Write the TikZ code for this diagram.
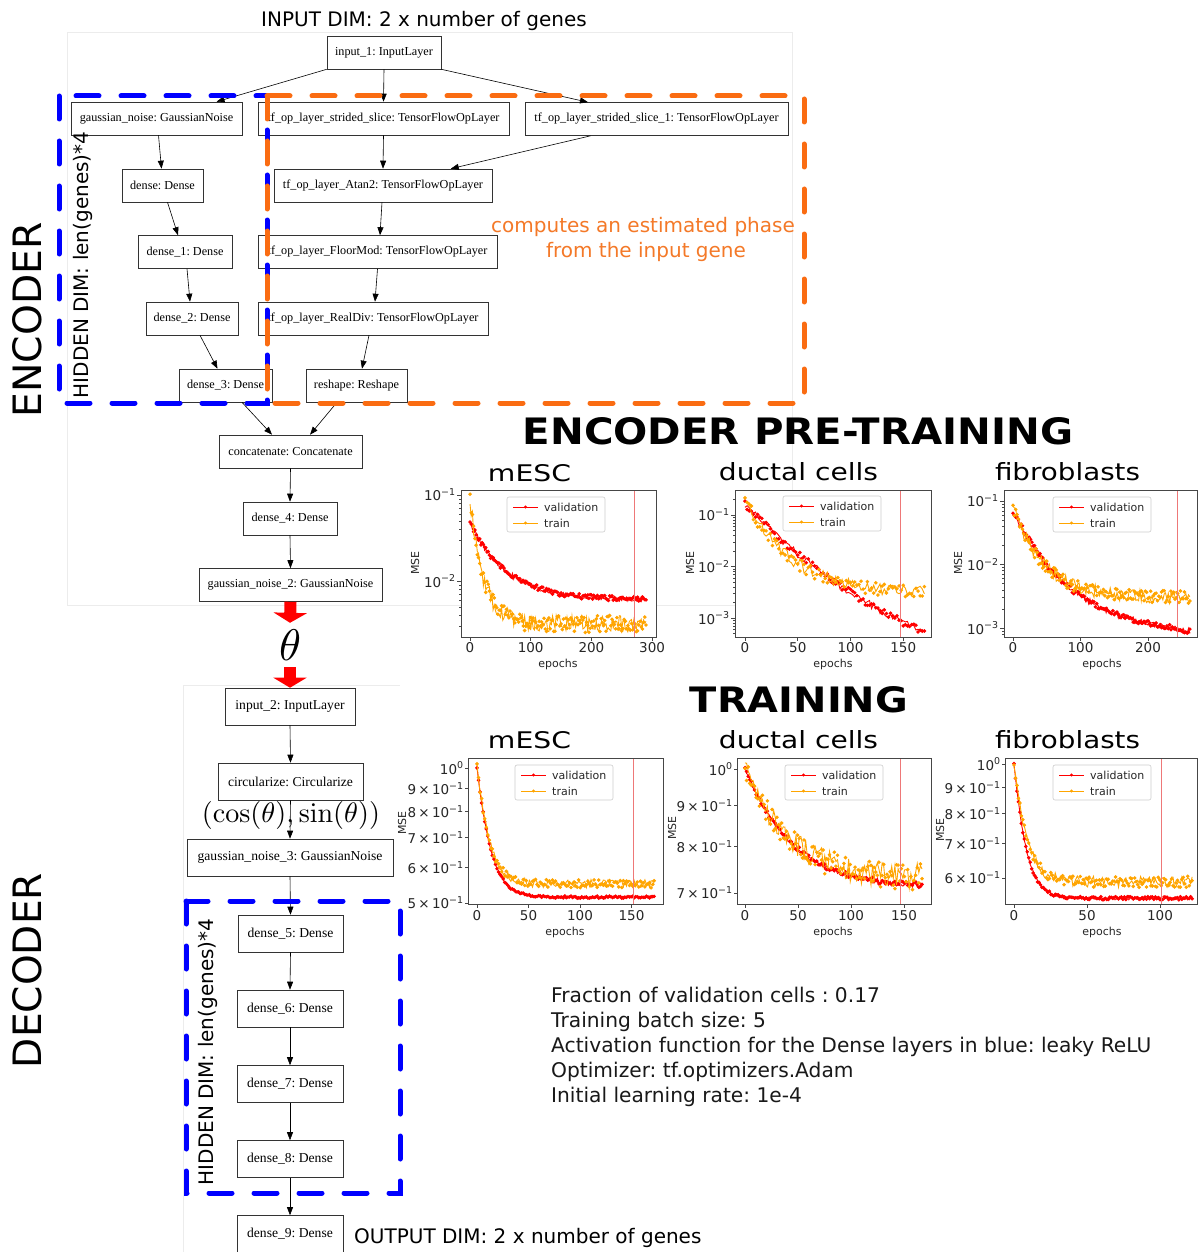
\documentclass[tikz,border=0pt]{standalone}
\usepackage[no-math]{fontspec}
\setmainfont{Liberation Serif}
\newfontfamily\dv{DejaVu Sans}
\usepackage{graphicx}
\usetikzlibrary{arrows.meta,calc}
\definecolor{dashorange}{RGB}{250,108,18}
\definecolor{txtorange}{RGB}{244,121,40}
\definecolor{mplred}{RGB}{255,0,0}
\definecolor{mplorange}{RGB}{255,165,0}
\definecolor{vlinecol}{RGB}{238,120,120}
\definecolor{faint}{RGB}{236,236,236}
\definecolor{axgray}{RGB}{70,70,70}
\newcommand{\tp}[1]{10\textsuperscript{#1}}
\newcommand{\mt}[1]{#1\,×\,10\textsuperscript{−1}}
\frenchspacing
\tikzset{
 lay/.style={draw=black!80, line width=0.6pt, inner sep=0pt, minimum height=33pt, font=\fontsize{12.2}{14}\selectfont},
 dlay/.style={lay, minimum height=37pt, font=\fontsize{13.6}{15}\selectfont},
 edge/.style={-{Triangle[length=8pt,width=6pt]}, line width=0.6pt, black},
 redarr/.style={-{Triangle[length=10pt,width=33pt]}, line width=12pt, red},
 bluebox/.style={draw=blue, line width=5pt, line cap=round, dash pattern=on 23pt off 22pt},
 orangebox/.style={draw=dashorange, line width=5pt, line cap=round, dash pattern=on 23pt off 22pt},
 axframe/.style={draw=axgray, line width=0.8pt},
 tk/.style={axgray, line width=0.7pt},
 tkm/.style={axgray, line width=0.5pt},
 tl/.style={font=\dv\fontsize{13.5}{15}\selectfont, text=black!85, inner sep=1pt},
 sl/.style={font=\dv\fontsize{11}{12}\selectfont, text=black!85, inner sep=1pt},
 cval/.style={mplred, line width=0.9pt, mark=*, mark size=1.3pt, mark options={fill=mplred, draw=mplred}},
 ctrain/.style={mplorange, line width=0.9pt, mark=*, mark size=1.3pt, mark options={fill=mplorange, draw=mplorange}},
 vmark/.style={vlinecol, line width=0.8pt},
 bigtxt/.style={inner sep=0pt, font=\dv},
 note/.style={font=\dv\fontsize{20.2}{22}\selectfont, anchor=base west, inner sep=0pt, text=black!90},
}
\newcommand{\plegend}[2]{%
 \draw[draw=black!20, fill=white, rounded corners=2pt, line width=0.6pt] (#1,#2) rectangle ++(98,35);
 \draw[mplred, line width=1pt] ({#1+6},{#2+10}) -- ++(25,0);
 \fill[mplred] ({#1+18.5},{#2+10}) circle (1.7pt);
 \node[sl, anchor=west] at ({#1+36},{#2+10}) {validation};
 \draw[mplorange, line width=1pt] ({#1+6},{#2+26}) -- ++(25,0);
 \fill[mplorange] ({#1+18.5},{#2+26}) circle (1.7pt);
 \node[sl, anchor=west] at ({#1+36},{#2+26}) {train};
}
\begin{document}
\begin{tikzpicture}[x=1pt,y=-1pt]
\useasboundingbox (0,0) rectangle (1199,1252);
\fill[white] (0,0) rectangle (1199,1252);
\pgfmathsetseed{42}
% faint image frames
\draw[faint, line width=0.8pt] (67,32) rectangle (792,605);
\draw[faint, line width=0.8pt] (183,685) -- (400,685);
\draw[faint, line width=0.8pt] (183,685) -- (183,1252);

% ---------- encoder graph ----------
\node[lay, minimum width=114pt] (in1) at (384,52.5) {input\_1: InputLayer};
\node[lay, minimum width=171pt] (gn) at (156.5,118.5) {gaussian\_noise: GaussianNoise};
\node[lay, minimum width=251pt] (ss) at (383.5,118.5) {tf\_op\_layer\_strided\_slice: TensorFlowOpLayer};
\node[lay, minimum width=263pt] (ss1) at (656.5,119) {tf\_op\_layer\_strided\_slice\_1: TensorFlowOpLayer};
\node[lay, minimum width=81pt] (d0) at (162.5,185.5) {dense: Dense};
\node[lay, minimum width=218pt] (atan) at (383,185.5) {tf\_op\_layer\_Atan2: TensorFlowOpLayer};
\node[lay, minimum width=94pt] (d1) at (185,252) {dense\_1: Dense};
\node[lay, minimum width=239pt] (fmod) at (377.5,252) {tf\_op\_layer\_FloorMod: TensorFlowOpLayer};
\node[lay, minimum width=92pt] (d2) at (192,318.5) {dense\_2: Dense};
\node[lay, minimum width=230pt] (rdiv) at (373,318.5) {tf\_op\_layer\_RealDiv: TensorFlowOpLayer};
\node[lay, minimum width=93pt] (d3) at (225.5,385.5) {dense\_3: Dense};
\node[lay, minimum width=101pt] (resh) at (356.5,385.5) {reshape: Reshape};
\node[lay, minimum width=143pt] (conc) at (290.5,451.5) {concatenate: Concatenate};
\node[lay, minimum width=94pt] (d4) at (290,518.5) {dense\_4: Dense};
\node[lay, minimum width=183pt] (gn2) at (290.5,585) {gaussian\_noise\_2: GaussianNoise};

\draw[edge] (in1.south west) -- ($(gn.north west)!0.85!(gn.north east)$);
\draw[edge] (in1.south) -- (ss.north);
\draw[edge] (in1.south east) -- ($(ss1.north west)!0.24!(ss1.north east)$);
\draw[edge] ($(gn.south)+(2,0)$) -- ($(d0.north)+(-1,0)$);
\draw[edge] ($(d0.south)+(5,0)$) -- ($(d1.north)+(-7,0)$);
\draw[edge] ($(d1.south)+(2,0)$) -- ($(d2.north)+(-2,0)$);
\draw[edge] ($(d2.south)+(8,0)$) -- ($(d3.north)+(-8,0)$);
\draw[edge] (ss.south) -- (atan.north);
\draw[edge] ($(ss1.south west)!0.25!(ss1.south east)$) -- ($(atan.north west)!0.81!(atan.north east)$);
\draw[edge] ($(atan.south)+(-1,0)$) -- ($(fmod.north)+(2.5,0)$);
\draw[edge] (fmod.south) -- ($(rdiv.north)+(2,0)$);
\draw[edge] ($(rdiv.south)+(-4,0)$) -- ($(resh.north)+(5.5,0)$);
\draw[edge] ($(d3.south)+(16.5,0)$) -- ($(conc.north)+(-18.5,0)$);
\draw[edge] ($(resh.south)+(-19.5,0)$) -- ($(conc.north)+(19.5,0)$);
\draw[edge] (conc.south) -- (d4.north);
\draw[edge] (d4.south) -- (gn2.north);

% dashed groups
\draw[bluebox] (59,96) rectangle (267,403);
\draw[orangebox] (267,96) rectangle (804,403);
\node[font=\dv\fontsize{20}{20}\selectfont, text=txtorange, anchor=base] (ph1) at (643,232) {computes an estimated phase};
\node[font=\dv\fontsize{20}{20}\selectfont, text=txtorange, anchor=base] (ph2) at (646,257) {from the input gene};
\node[font=\dv\fontsize{20}{20}\selectfont, rotate=90, inner sep=0pt] (hd1) at (82.5,265) {HIDDEN DIM: len(genes)*4};
\node[font=\dv\fontsize{20}{20}\selectfont, anchor=base] (indim) at (424,27) {INPUT DIM: 2 x number of genes};

% theta
\node[inner sep=0pt, minimum height=44pt] (theta) at (290,645) {\resizebox{22pt}{!}{$\theta$}};
\draw[redarr] (gn2.south) -- (theta.north);

% ---------- decoder graph ----------
\node[dlay, minimum width=130pt] (in2) at (290,706.5) {input\_2: InputLayer};
\draw[redarr] (theta.south) -- (in2.north);
\node[dlay, minimum width=145pt] (circ) at (290.5,781.5) {circularize: Circularize};
\node[dlay, minimum width=206pt] (gn3) at (290,857.5) {gaussian\_noise\_3: GaussianNoise};
\node[dlay, minimum width=105pt] (d5) at (290.5,933.5) {dense\_5: Dense};
\node[dlay, minimum width=106pt] (d6) at (290,1008.5) {dense\_6: Dense};
\node[dlay, minimum width=106pt] (d7) at (290,1084) {dense\_7: Dense};
\node[dlay, minimum width=106pt] (d8) at (290,1159) {dense\_8: Dense};
\node[dlay, minimum width=106pt] (d9) at (290,1234) {dense\_9: Dense};
\node[inner sep=0pt] (cs) at (291,815) {\resizebox{178pt}{!}{$(\cos(\theta),\sin(\theta))$}};
\draw[edge] (in2.south) -- (circ.north);
\draw[edge] (circ.south) -- (gn3.north);
\draw[edge] (gn3.south) -- (d5.north);
\draw[edge] (d5.south) -- (d6.north);
\draw[edge] (d6.south) -- (d7.north);
\draw[edge] (d7.south) -- (d8.north);
\draw[edge] (d8.south) -- (d9.north);
\draw[bluebox] (186,901) rectangle (400,1193);
\node[font=\dv\fontsize{20}{20}\selectfont, rotate=90, inner sep=0pt] (hd2) at (207.5,1052) {HIDDEN DIM: len(genes)*4};
\node[font=\dv\fontsize{20}{20}\selectfont, anchor=base west, inner sep=0pt] (outdim) at (354,1243) {OUTPUT DIM: 2 x number of genes};

% side labels
\node[bigtxt, rotate=90] (enc) at (27.5,320) {\resizebox{195pt}{29pt}{\dv ENCODER}};
\node[bigtxt, rotate=90] (dec) at (27.5,970.5) {\resizebox{195pt}{29pt}{\dv DECODER}};

% titles
\node[bigtxt] (t1) at (798,431.5) {\resizebox{550pt}{27pt}{\dv\bfseries ENCODER PRE-TRAINING}};
\node[bigtxt] (t2) at (799,700) {\resizebox{218pt}{26pt}{\dv\bfseries TRAINING}};
\node[bigtxt] (s11) at (529.5,473) {\resizebox{83pt}{17pt}{\dv mESC}};
\node[bigtxt] (s12) at (798.5,472) {\resizebox{159pt}{18pt}{\dv ductal cells}};
\node[bigtxt] (s13) at (1067.5,472) {\resizebox{145pt}{18pt}{\dv fibroblasts}};
\node[bigtxt] (s21) at (529.5,740.5) {\resizebox{83pt}{17pt}{\dv mESC}};
\node[bigtxt] (s22) at (798.5,740) {\resizebox{159pt}{18pt}{\dv ductal cells}};
\node[bigtxt] (s23) at (1067.5,740) {\resizebox{145pt}{18pt}{\dv fibroblasts}};

% ---------- R1 mESC ----------
\fill[white] (461,490) rectangle (656,637);
\begin{scope}
\clip (461,490) rectangle (656,637);
\draw[cval] plot[domain=0:290, samples=146] ({470+0.607*\x},{495-86*(-1.22+0.9*exp(-\x/60)+0.03*rand)});
\draw[ctrain] plot[domain=0:290, samples=146] ({470+0.607*\x},{495-86*(-1.5+1.45*exp(-\x/22)+0.1*rand)});
\draw[vmark] (634,490) -- (634,637);
\end{scope}
\draw[axframe] (461,490) rectangle (656,637);
\foreach \t in {0,100,200,300} {\draw[tk] ({470+0.607*\t},637) -- ++(0,4); \node[tl] at ({470+0.607*\t},648) {\t};}
\draw[tk] (461,495) -- ++(-4,0) node[tl,anchor=east] {\tp{−1}};
\draw[tk] (461,581) -- ++(-4,0) node[tl,anchor=east] {\tp{−2}};
\foreach \m in {2,...,9} \draw[tkm] (461,{581-86*log10(\m)}) -- ++(-2.5,0);
\foreach \m in {3,...,9} \draw[tkm] (461,{667-86*log10(\m)}) -- ++(-2.5,0);
\node[sl] at (558,664) {epochs};
\node[sl, rotate=90] at (415,563) {MSE};
\plegend{507}{497}

% ---------- R1 ductal ----------
\fill[white] (735,490) rectangle (931,637);
\begin{scope}
\clip (735,490) rectangle (931,637);
\draw[cval] plot[domain=0:170, samples=86] ({745+1.055*\x},{515-51.5*(0.2-4.33*(1-exp(-\x/200))+0.07*rand)});
\draw[ctrain] plot[domain=0:170, samples=86] ({745+1.055*\x},{515-51.5*(-1.55+1.85*exp(-\x/45)+0.12*rand)});
\draw[vmark] (900,490) -- (900,637);
\end{scope}
\draw[axframe] (735,490) rectangle (931,637);
\foreach \t in {0,50,100,150} {\draw[tk] ({745+1.055*\t},637) -- ++(0,4); \node[tl] at ({745+1.055*\t},648) {\t};}
\draw[tk] (735,515) -- ++(-4,0) node[tl,anchor=east] {\tp{−1}};
\draw[tk] (735,566.5) -- ++(-4,0) node[tl,anchor=east] {\tp{−2}};
\draw[tk] (735,618) -- ++(-4,0) node[tl,anchor=east] {\tp{−3}};
\draw[tkm] (735,{515-51.5*log10(2)}) -- ++(-2.5,0);
\foreach \m in {2,...,9} \draw[tkm] (735,{566.5-51.5*log10(\m)}) -- ++(-2.5,0);
\foreach \m in {2,...,9} \draw[tkm] (735,{618-51.5*log10(\m)}) -- ++(-2.5,0);
\foreach \m in {5,...,9} \draw[tkm] (735,{669.5-51.5*log10(\m)}) -- ++(-2.5,0);
\node[sl] at (833,664) {epochs};
\node[sl, rotate=90] at (690,563) {MSE};
\plegend{783}{496}

% ---------- R1 fibroblasts ----------
\fill[white] (1004,490) rectangle (1197,637);
\begin{scope}
\clip (1004,490) rectangle (1197,637);
\draw[cval] plot[domain=0:262, samples=132] ({1013+0.675*\x},{501-63.5*(-2.15+2.0*exp(-\x/90)+0.05*rand)});
\draw[ctrain] plot[domain=0:262, samples=132] ({1013+0.675*\x},{501-63.5*(-1.52+1.45*exp(-\x/45)+0.1*rand)});
\draw[vmark] (1177,490) -- (1177,637);
\end{scope}
\draw[axframe] (1004,490) rectangle (1197,637);
\foreach \t in {0,100,200} {\draw[tk] ({1013+0.675*\t},637) -- ++(0,4); \node[tl] at ({1013+0.675*\t},648) {\t};}
\draw[tk] (1004,501) -- ++(-4,0) node[tl,anchor=east] {\tp{−1}};
\draw[tk] (1004,564.5) -- ++(-4,0) node[tl,anchor=east] {\tp{−2}};
\draw[tk] (1004,628) -- ++(-4,0) node[tl,anchor=east] {\tp{−3}};
\foreach \m in {2,...,9} \draw[tkm] (1004,{564.5-63.5*log10(\m)}) -- ++(-2.5,0);
\foreach \m in {2,...,9} \draw[tkm] (1004,{628-63.5*log10(\m)}) -- ++(-2.5,0);
\foreach \m in {8,9} \draw[tkm] (1004,{691.5-63.5*log10(\m)}) -- ++(-2.5,0);
\node[sl] at (1102,664) {epochs};
\node[sl, rotate=90] at (958,563) {MSE};
\plegend{1053}{497}

% ---------- R2 mESC ----------
\fill[white] (468,758) rectangle (663,904);
\begin{scope}
\clip (468,758) rectangle (663,904);
\draw[cval] plot[domain=0:172, samples=116] ({477+1.03*\x},{768-448*log10(0.515+0.485*exp(-\x/11)+0.003*rand)});
\draw[ctrain] plot[domain=0:172, samples=116] ({477+1.03*\x},{768-448*log10(0.552+0.46*exp(-\x/10)+0.012*rand)});
\draw[vmark] (633,758) -- (633,904);
\end{scope}
\draw[axframe] (468,758) rectangle (663,904);
\foreach \t in {0,50,100,150} {\draw[tk] ({477+1.03*\t},904) -- ++(0,4); \node[tl] at ({477+1.03*\t},916) {\t};}
\draw[tk] (468,768) -- ++(-3,0) node[tl,anchor=east] {\tp{0}};
\foreach \m/\lab in {0.9/9,0.8/8,0.7/7,0.6/6,0.5/5} {\draw[tk] (468,{768-448*log10(\m)}) -- ++(-3,0) node[tl,anchor=east] {\mt{\lab}};}
\node[sl] at (565,932) {epochs};
\node[sl, rotate=90] at (402,823) {MSE};
\plegend{515}{765}

% ---------- R2 ductal ----------
\fill[white] (737,758) rectangle (931,904);
\begin{scope}
\clip (737,758) rectangle (931,904);
\draw[cval] plot[domain=0:167, samples=112] ({745+1.06*\x},{769-800*log10(0.712+0.288*exp(-\x/40)+0.006*rand)});
\draw[ctrain] plot[domain=0:167, samples=112] ({745+1.06*\x},{769-800*log10(0.73+0.27*exp(-\x/38)+0.028*rand)});
\draw[vmark] (900,758) -- (900,904);
\end{scope}
\draw[axframe] (737,758) rectangle (931,904);
\foreach \t in {0,50,100,150} {\draw[tk] ({745+1.06*\t},904) -- ++(0,4); \node[tl] at ({745+1.06*\t},916) {\t};}
\draw[tk] (737,769) -- ++(-3,0) node[tl,anchor=east] {\tp{0}};
\foreach \m/\lab in {0.9/9,0.8/8,0.7/7} {\draw[tk] (737,{769-800*log10(\m)}) -- ++(-3,0) node[tl,anchor=east] {\mt{\lab}};}
\node[sl] at (833,932) {epochs};
\node[sl, rotate=90] at (672,828) {MSE};
\plegend{785}{765}

% ---------- R2 fibroblasts ----------
\fill[white] (1005,758) rectangle (1197,904);
\begin{scope}
\clip (1005,758) rectangle (1197,904);
\draw[cval] plot[domain=0:122, samples=122] ({1014+1.46*\x},{764-514*log10(0.548+0.452*exp(-\x/7)+0.004*rand)});
\draw[ctrain] plot[domain=0:122, samples=122] ({1014+1.46*\x},{764-514*log10(0.59+0.41*exp(-\x/7.5)+0.015*rand)});
\draw[vmark] (1161,758) -- (1161,904);
\end{scope}
\draw[axframe] (1005,758) rectangle (1197,904);
\foreach \t in {0,50,100} {\draw[tk] ({1014+1.46*\t},904) -- ++(0,4); \node[tl] at ({1014+1.46*\t},916) {\t};}
\draw[tk] (1005,764) -- ++(-3,0) node[tl,anchor=east] {\tp{0}};
\foreach \m/\lab in {0.9/9,0.8/8,0.7/7,0.6/6} {\draw[tk] (1005,{764-514*log10(\m)}) -- ++(-3,0) node[tl,anchor=east] {\mt{\lab}};}
\node[sl] at (1102,932) {epochs};
\node[sl, rotate=90] at (940,830) {MSE};
\plegend{1053}{765}

% ---------- settings text ----------
\node[note] (p1) at (551,1002) {Fraction of validation cells : 0.17};
\node[note] (p2) at (551,1027) {Training batch size: 5};
\node[note] (p3) at (551,1052) {Activation function for the Dense layers in blue: leaky ReLU};
\node[note] (p4) at (551,1077) {Optimizer: tf.optimizers.Adam};
\node[note] (p5) at (551,1102) {Initial learning rate: 1e-4};
\end{tikzpicture}
\end{document}
